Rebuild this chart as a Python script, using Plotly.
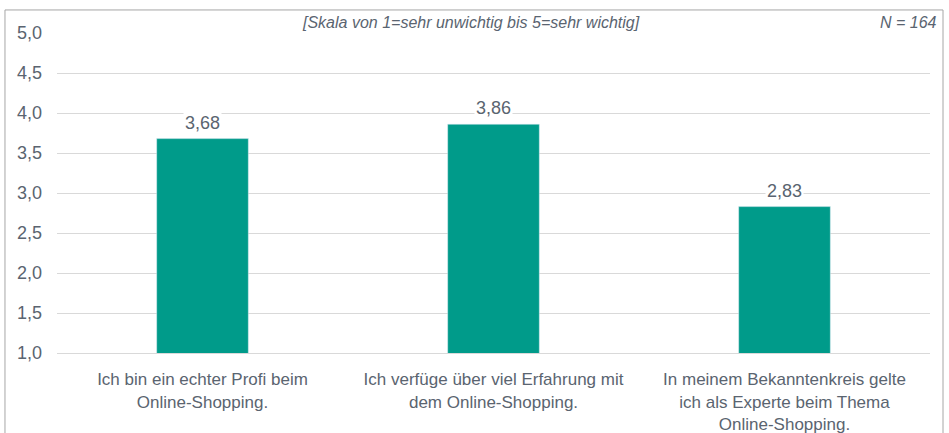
import plotly.graph_objects as go

categories = [
    "Ich bin ein echter Profi beim<br>Online-Shopping.",
    "Ich verfüge über viel Erfahrung mit<br>dem Online-Shopping.",
    "In meinem Bekanntenkreis gelte<br>ich als Experte beim Thema<br>Online-Shopping.",
]
values = [3.68, 3.86, 2.83]
tick_vals = [1.0, 1.5, 2.0, 2.5, 3.0, 3.5, 4.0, 4.5, 5.0]

TEXT = "#5a6470"
BAR = "#009b8a"
FONT = "Liberation Sans, Arial, sans-serif"

fig = go.Figure()
fig.add_trace(go.Bar(
    x=categories, y=values, marker_color=BAR, width=0.315,
    hoverinfo="skip",
))

for c, v in zip(categories, values):
    fig.add_annotation(
        x=c, y=v, yref="y", xref="x", text=f"{v:.2f}".replace(".", ","),
        showarrow=False, yshift=16, bgcolor="white",
        font=dict(family=FONT, size=18, color=TEXT),
    )

fig.add_annotation(
    x=(471 - 57) / 873, xref="paper", y=1.034, yref="paper",
    text="<i>[Skala von 1=sehr unwichtig bis 5=sehr wichtig]</i>",
    showarrow=False, xanchor="center", yanchor="middle",
    font=dict(family=FONT, size=16, color=TEXT),
)
fig.add_annotation(
    x=(939 - 57) / 873, xref="paper", y=1.034, yref="paper",
    text="<i>N = 164</i>",
    showarrow=False, xanchor="right", yanchor="middle",
    font=dict(family=FONT, size=16, color=TEXT),
)

fig.add_shape(
    type="rect", xref="paper", yref="paper",
    x0=-0.0596, x1=1.0149, y0=-0.3, y1=1.072,
    line=dict(color="#a6a6a6", width=1), fillcolor="rgba(0,0,0,0)",
    layer="below",
)

fig.update_layout(
    width=949, height=433,
    margin=dict(l=57, r=19, t=33, b=80, autoexpand=False),
    paper_bgcolor="white", plot_bgcolor="white",
    separators=", ",
    showlegend=False,
    font=dict(family=FONT, size=17, color=TEXT),
)
fig.update_xaxes(
    showgrid=False, showline=True, linecolor="#d9d9d9", linewidth=1,
    tickfont=dict(family=FONT, size=17, color=TEXT), ticks="",
    ticklabelstandoff=11,
)
fig.update_yaxes(
    range=[1, 5], tickvals=tick_vals, tickformat=".1f",
    showgrid=True, gridcolor="#d9d9d9", gridwidth=1,
    zeroline=False, showline=False, ticks="",
    tickfont=dict(family=FONT, size=18, color=TEXT),
    ticklabelstandoff=14,
)

fig.write_html(
    "out.html",
    config={"displayModeBar": False},
    post_script="document.body.style.margin='0';document.body.style.padding='0';",
)
